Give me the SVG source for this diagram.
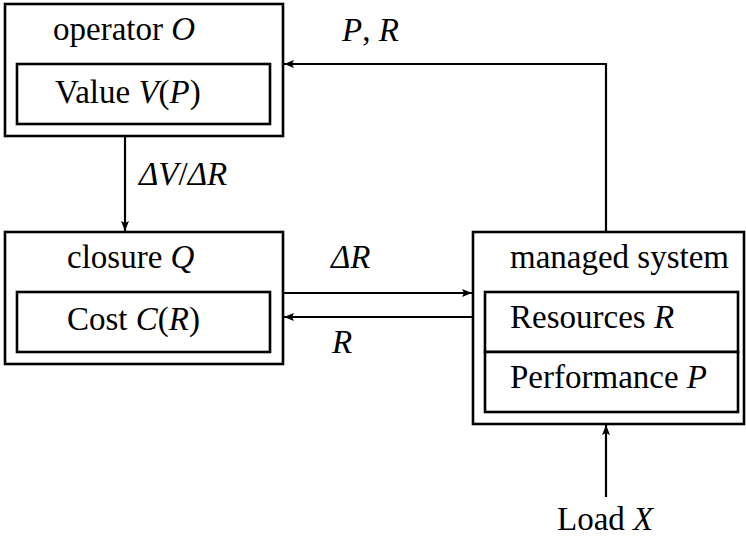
<svg xmlns="http://www.w3.org/2000/svg" width="746" height="540" viewBox="0 0 746 540">
<defs>
<marker id="ah" viewBox="0 0 10 8" refX="10" refY="4" markerWidth="10" markerHeight="8" markerUnits="userSpaceOnUse" orient="auto">
<path d="M0,0 L10,4 L0,8 L2,4 Z" fill="#000"/>
</marker>
</defs>
<rect width="746" height="540" fill="#fff"/>
<g id="connectors" fill="none" stroke="#000" stroke-width="2.2">
<line x1="125" y1="137" x2="125" y2="231" marker-end="url(#ah)"/>
<polyline points="606,231 606,64 284,64" marker-end="url(#ah)"/>
<line x1="284" y1="293" x2="472" y2="293" marker-end="url(#ah)"/>
<line x1="472" y1="317" x2="284" y2="317" marker-end="url(#ah)"/>
<line x1="606" y1="497" x2="606" y2="425" marker-end="url(#ah)"/>
</g>
<g id="labels">
<text font-family="Liberation Serif" font-size="33" x="139" y="185"><tspan font-style="italic">&#916;V</tspan>/<tspan font-style="italic">&#916;R</tspan></text>
<text font-family="Liberation Serif" font-size="33" x="342" y="41"><tspan font-style="italic">P</tspan>, <tspan font-style="italic">R</tspan></text>
<text font-family="Liberation Serif" font-size="33" font-style="italic" x="331" y="268">&#916;R</text>
<text font-family="Liberation Serif" font-size="33" font-style="italic" x="332" y="353">R</text>
<text font-family="Liberation Serif" font-size="33" x="557" y="530">Load <tspan font-style="italic">X</tspan></text>
</g>
<g id="operator">
<rect x="5" y="4" width="278" height="132" fill="#fff" stroke="#000" stroke-width="2.6"/>
<text font-family="Liberation Serif" font-size="33" x="53" y="40">operator <tspan font-style="italic">O</tspan></text>
<g id="value">
<rect x="17" y="64" width="253" height="60" fill="#fff" stroke="#000" stroke-width="2.6"/>
<text font-family="Liberation Serif" font-size="33" x="55" y="103">Value <tspan font-style="italic">V</tspan>(<tspan font-style="italic">P</tspan>)</text>
</g>
</g>
<g id="closure">
<rect x="5" y="232" width="278" height="132" fill="#fff" stroke="#000" stroke-width="2.6"/>
<text font-family="Liberation Serif" font-size="33" x="67" y="268">closure <tspan font-style="italic">Q</tspan></text>
<g id="cost">
<rect x="17" y="292" width="253" height="60" fill="#fff" stroke="#000" stroke-width="2.6"/>
<text font-family="Liberation Serif" font-size="33" x="67" y="330">Cost <tspan font-style="italic">C</tspan>(<tspan font-style="italic">R</tspan>)</text>
</g>
</g>
<g id="managed">
<rect x="473" y="232" width="271" height="192" fill="#fff" stroke="#000" stroke-width="2.6"/>
<text font-family="Liberation Serif" font-size="33" x="510" y="268">managed system</text>
<g id="resources">
<rect x="485" y="292" width="253" height="60" fill="#fff" stroke="#000" stroke-width="2.6"/>
<text font-family="Liberation Serif" font-size="33" x="510" y="328">Resources <tspan font-style="italic">R</tspan></text>
</g>
<g id="performance">
<rect x="485" y="352" width="253" height="60" fill="#fff" stroke="#000" stroke-width="2.6"/>
<text font-family="Liberation Serif" font-size="33" x="510" y="388">Performance <tspan font-style="italic">P</tspan></text>
</g>
</g>
</svg>
